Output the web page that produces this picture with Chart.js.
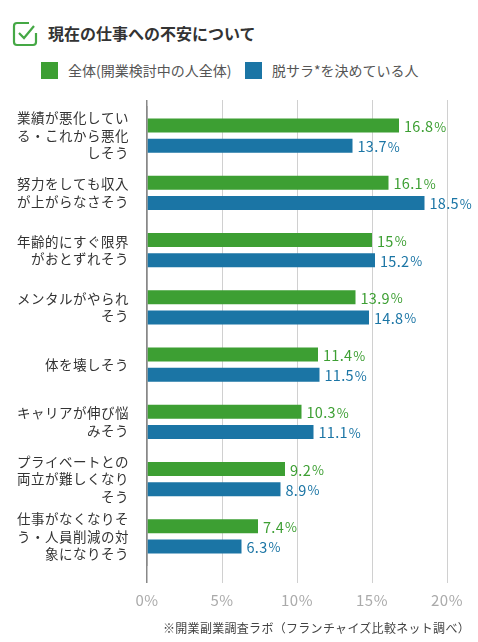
<!DOCTYPE html>
<html lang="ja">
<head>
<meta charset="utf-8">
<script src="https://cdn.jsdelivr.net/npm/chart.js@4"></script>
<style>
  html, body { margin: 0; padding: 0; background: #fff; }
  body { width: 478px; height: 642px; position: relative; overflow: hidden;
         font-family: "Noto Sans CJK JP", sans-serif; }
  #chart { position: absolute; left: 0; top: 0; }
  .title { position: absolute; left: 48px; top: 22px; font-size: 16px; font-weight: bold; color: #333; line-height: 22px; }
  .icon { position: absolute; left: 12px; top: 21px; }
  .legend { position: absolute; top: 62px; font-size: 14px; color: #555; line-height: 17px; }
  .legend span.box { display: inline-block; width: 17px; height: 17px; vertical-align: top; margin-right: 10px; }
  .note { position: absolute; left: 163px; top: 619px; font-size: 12px; color: #444; letter-spacing: 0.3px; }
</style>
</head>
<body>
<svg class="icon" width="26" height="26" viewBox="0 0 26 26">
  <path d="M17 2 H5 Q2 2 2 5 V21 Q2 24 5 24 H21 Q24 24 24 21 V12" fill="none" stroke="#45a845" stroke-width="2.2"/>
  <path d="M7 12 L12 17 L22 5" fill="none" stroke="#45a845" stroke-width="2.2"/>
</svg>
<div class="title">現在の仕事への不安について</div>
<div class="legend" style="left:41px"><span class="box" style="background:#3d9f33"></span>全体(開業検討中の人全体)</div>
<div class="legend" style="left:245px"><span class="box" style="background:#1b75a5"></span>脱サラ*を決めている人</div>
<canvas id="chart" width="478" height="642"></canvas>
<div class="note">※開業副業調査ラボ（フランチャイズ比較ネット調べ）</div>

<script>
// カテゴリ（改行済み）
const categories = [
    ['業績が悪化してい', 'る・これから悪化', 'しそう'],
    ['努力をしても収入', 'が上がらなさそう'],
    ['年齢的にすぐ限界', 'がおとずれそう'],
    ['メンタルがやられ', 'そう'],
    '体を壊しそう',
    ['キャリアが伸び悩', 'みそう'],
    ['プライベートとの', '両立が難しくなり', 'そう'],
    ['仕事がなくなりそ', 'う・人員削減の対', '象になりそう']
];
const allPeople = [16.8, 16.1, 15, 13.9, 11.4, 10.3, 9.2, 7.4];
const quitting = [13.7, 18.5, 15.2, 14.8, 11.5, 11.1, 8.9, 6.3];
const xTicks = [0, 5, 10, 15, 20];

const GREEN = '#3d9f33';
const BLUE = '#1b75a5';

Chart.defaults.font.family = '"Noto Sans CJK JP", sans-serif';

const gridColor = c => c.tick && c.tick.value === 0 ? '#888' : '#d0d0d0';
const gridWidth = c => c.tick && c.tick.value === 0 ? 1.5 : 1;

// 軸ラベルに字間をつける
const spacing = {
    id: 'spacing',
    beforeDraw(chart) { chart.ctx.letterSpacing = '0.5px'; },
    beforeDatasetsDraw(chart) { chart.ctx.letterSpacing = '0px'; }
};

// 棒の右に値ラベル
const valueLabels = {
    id: 'valueLabels',
    afterDatasetsDraw(chart) {
        const ctx = chart.ctx;
        chart.data.datasets.forEach((ds, i) => {
            const meta = chart.getDatasetMeta(i);
            meta.data.forEach((bar, j) => {
                const num = String(ds.data[j]);
                ctx.save();
                ctx.letterSpacing = '0.3px';
                ctx.fillStyle = ds.backgroundColor;
                ctx.textBaseline = 'middle';
                ctx.textAlign = 'left';
                ctx.font = '14.5px "Noto Sans CJK JP", sans-serif';
                const x = bar.x + 5;
                ctx.fillText(num, x, bar.y + 1);
                const w = ctx.measureText(num).width;
                ctx.font = '13px "Noto Sans CJK JP", sans-serif';
                ctx.fillText('%', x + w + 1, bar.y + 1);
                ctx.restore();
            });
        });
    }
};

new Chart(document.getElementById('chart'), {
    type: 'bar',
    data: {
        labels: categories,
        datasets: [
            { label: '全体(開業検討中の人全体)', data: allPeople, backgroundColor: GREEN },
            { label: '脱サラ*を決めている人', data: quitting, backgroundColor: BLUE }
        ]
    },
    options: {
        indexAxis: 'y',
        responsive: false,
        animation: false,
        categoryPercentage: 0.7,
        barPercentage: 0.7,
        layout: { padding: { top: 100, left: 0, right: 31, bottom: 27 } },
        plugins: {
            legend: { display: false },
            tooltip: { enabled: false }
        },
        scales: {
            x: {
                min: 0, max: 20,
                afterBuildTicks: s => { s.ticks = xTicks.map(v => ({ value: v })); },
                afterFit: s => { s.height = 50; },
                ticks: {
                    callback: v => v + '%',
                    color: '#aaa',
                    font: { size: 15 },
                    padding: 8,
                    maxRotation: 0
                },
                grid: { color: gridColor, tickLength: 18, lineWidth: gridWidth },
                border: { display: false }
            },
            x2: {
                axis: 'x',
                position: 'top',
                min: 0, max: 20,
                afterBuildTicks: s => { s.ticks = xTicks.map(v => ({ value: v })); },
                afterFit: s => { s.height = 7; },
                ticks: { display: false },
                grid: { color: gridColor, tickLength: 7, drawOnChartArea: false, lineWidth: gridWidth },
                border: { display: false }
            },
            y: {
                afterFit: s => { s.width = 147; },
                ticks: {
                    color: '#333',
                    font: { size: 13.5, lineHeight: 1.28 },
                    padding: 10
                },
                grid: { display: false },
                border: { display: true, color: '#888', width: 1.5 }
            }
        }
    },
    plugins: [spacing, valueLabels]
});
</script>
</body>
</html>
